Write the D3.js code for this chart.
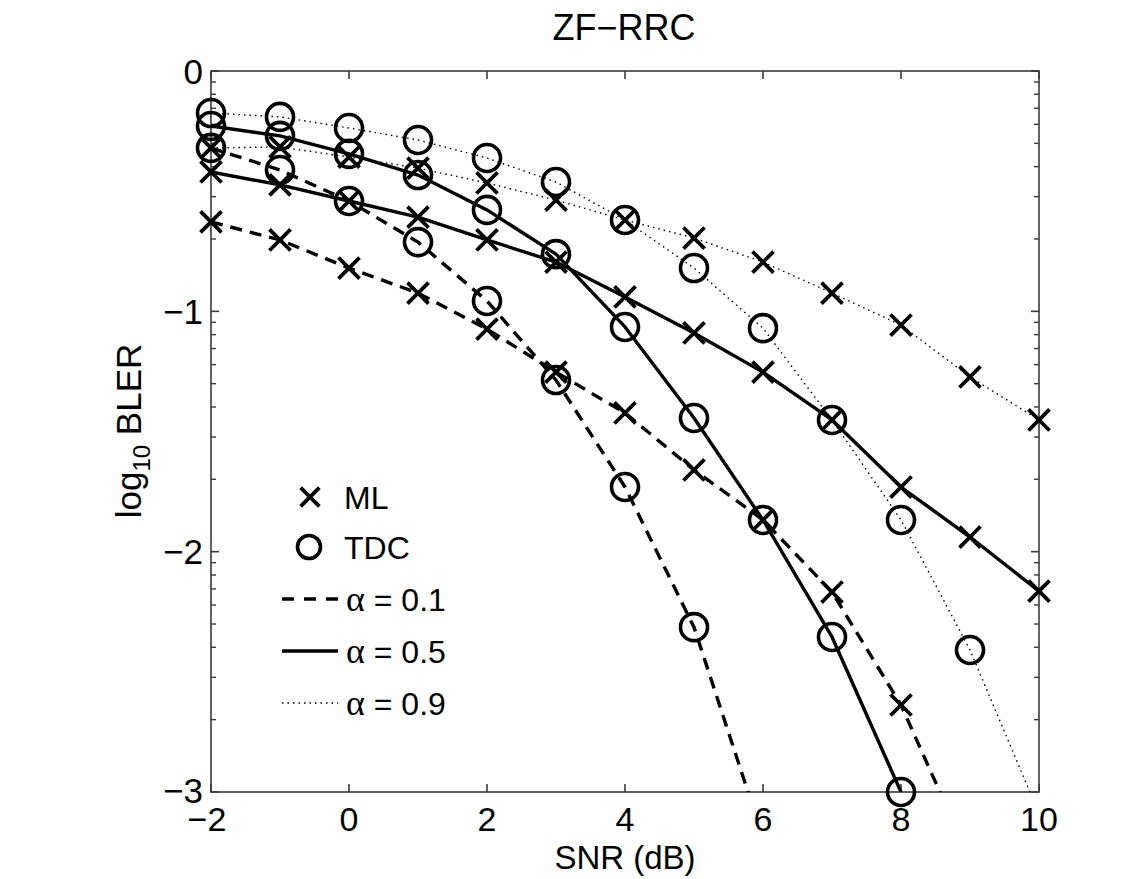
<!DOCTYPE html>
<html><head><meta charset="utf-8">
<script src="https://cdn.jsdelivr.net/npm/d3@7/dist/d3.min.js"></script>
<style>
html,body{margin:0;padding:0;background:#fff;}
svg{display:block;font-family:"Liberation Sans",Arial,sans-serif;}
</style></head>
<body>
<svg id="chart" width="1143" height="879"></svg>
<script>
// ---- data (log10 BLER vs SNR in dB) ----
const snr = [-2,-1,0,1,2,3,4,5,6,7,8,9,10];
const xTicks = [-2,0,2,4,6,8,10];
const yTicks = [0,-1,-2,-3];
const mlA01  = [-0.628,-0.703,-0.820,-0.924,-1.074,-1.253,-1.423,-1.660,-1.868,-2.168,-2.638,-3.28];
const tdcA01 = [-0.320,-0.412,-0.541,-0.712,-0.957,-1.286,-1.731,-2.314,-3.19];
const mlA05  = [-0.420,-0.474,-0.541,-0.608,-0.703,-0.795,-0.940,-1.090,-1.253,-1.452,-1.731,-1.939,-2.164];
const tdcA05 = [-0.229,-0.270,-0.345,-0.433,-0.578,-0.762,-1.065,-1.444,-1.868,-2.355,-3.0];
const mlA09  = [-0.320,-0.316,-0.358,-0.404,-0.466,-0.537,-0.620,-0.695,-0.795,-0.924,-1.057,-1.273,-1.452];
const tdcA09 = [-0.175,-0.191,-0.237,-0.287,-0.362,-0.462,-0.620,-0.820,-1.070,-1.452,-1.868,-2.409,-3.09];
const legendLabels = ["ML","TDC","α = 0.1","α = 0.5","α = 0.9"];

const series = [
  {v: mlA01,  marker:"x", style:"dash"},
  {v: tdcA01, marker:"o", style:"dash"},
  {v: mlA05,  marker:"x", style:"solid"},
  {v: tdcA05, marker:"o", style:"solid"},
  {v: mlA09,  marker:"x", style:"dot"},
  {v: tdcA09, marker:"o", style:"dot"}
];

const W = 1143, H = 879;
const m = {left:211, right:1039, top:71, bottom:792};
const x = d3.scaleLinear().domain([-2,10]).range([m.left, m.right]);
const y = d3.scaleLinear().domain([-3,0]).range([m.bottom, m.top]);

const svg = d3.select("#chart");
const styles = {
  dash: {w:3.4, da:"12,8"},
  solid:{w:3.4, da:null},
  dot:  {w:1.4, da:"1.5,4"}
};

svg.append("defs").append("clipPath").attr("id","clip")
  .append("rect").attr("x",m.left).attr("y",m.top)
  .attr("width",m.right-m.left).attr("height",m.bottom-m.top);

// axes frame
const axisColor = "#3a3a3a";
svg.append("rect").attr("x",m.left).attr("y",m.top)
  .attr("width",m.right-m.left).attr("height",m.bottom-m.top)
  .attr("fill","none").attr("stroke",axisColor).attr("stroke-width",1.6);

// x ticks (bottom & top, inward)
const gx = svg.append("g");
xTicks.forEach(t => {
  gx.append("line").attr("x1",x(t)).attr("x2",x(t)).attr("y1",m.bottom).attr("y2",m.bottom-8)
    .attr("stroke",axisColor).attr("stroke-width",1.6);
  gx.append("line").attr("x1",x(t)).attr("x2",x(t)).attr("y1",m.top).attr("y2",m.top+8)
    .attr("stroke",axisColor).attr("stroke-width",1.6);
  gx.append("text").attr("x",x(t)).attr("dx", t<0 ? -4 : 0).attr("y",831).attr("text-anchor","middle")
    .attr("font-size",34).attr("fill","#000").text(t<0?"\u2212"+Math.abs(t):t);
});

// y ticks major + log minor
const gy = svg.append("g");
const minor = [];
for (let d=-3; d<0; d++) for (let k=2;k<=9;k++) minor.push(d+Math.log10(k));
minor.forEach(v => {
  [[m.left, 5],[m.right,-5]].forEach(([x0,len]) => {
    gy.append("line").attr("x1",x0).attr("x2",x0+len).attr("y1",y(v)).attr("y2",y(v))
      .attr("stroke",axisColor).attr("stroke-width",1.4);
  });
});
yTicks.forEach(t => {
  [[m.left, 8],[m.right,-8]].forEach(([x0,len]) => {
    gy.append("line").attr("x1",x0).attr("x2",x0+len).attr("y1",y(t)).attr("y2",y(t))
      .attr("stroke",axisColor).attr("stroke-width",1.6);
  });
  gy.append("text").attr("x",203).attr("y",y(t)).attr("dy", t===-3 ? "0.30em" : "0.36em").attr("text-anchor","end")
    .attr("font-size",35).attr("fill","#000").text(t<0?"\u2212"+Math.abs(t):t);
});

// lines
const line = d3.line().x((d,i)=>x(snr[i])).y(d=>y(d));
const gl = svg.append("g").attr("clip-path","url(#clip)");
series.forEach(s => {
  const st = styles[s.style];
  gl.append("path").attr("d", line(s.v)).attr("fill","none").attr("stroke","#000")
    .attr("stroke-width",st.w).attr("stroke-dasharray",st.da).attr("stroke-linejoin","round");
});

// markers
function drawMarker(g, type, cx, cy, size) {
  if (type === "o") {
    g.append("circle").attr("cx",cx).attr("cy",cy).attr("r",size)
      .attr("fill","none").attr("stroke","#000").attr("stroke-width",3.6);
  } else {
    const h = size*0.78;
    g.append("path").attr("d",`M${cx-h},${cy-h}L${cx+h},${cy+h}M${cx-h},${cy+h}L${cx+h},${cy-h}`)
      .attr("stroke","#000").attr("stroke-width",3.8).attr("fill","none");
  }
}
const gm = svg.append("g");
series.forEach(s => {
  s.v.forEach((d,i) => { if (d >= -3) drawMarker(gm, s.marker, x(snr[i]), y(d), 13.5); });
});

// legend
const lg = svg.append("g").attr("font-size",32);
const rowY = [497,547,599,651,703];
drawMarker(lg,"x",310,rowY[0],12);
drawMarker(lg,"o",309,rowY[1],11.5);
["dash","solid","dot"].forEach((k,i) => {
  const st = styles[k];
  lg.append("line").attr("x1",282).attr("x2",338).attr("y1",rowY[i+2]).attr("y2",rowY[i+2])
    .attr("stroke","#000").attr("stroke-width",st.w).attr("stroke-dasharray",k==="dash"?"12,10":st.da);
});
legendLabels.forEach((lab,i) => {
  const t = lg.append("text").attr("x", i<2?344:346).attr("y",rowY[i]).attr("dy","0.36em").attr("fill","#000");
  if (lab.startsWith("α")) {
    t.append("tspan").attr("font-family","'Liberation Serif','DejaVu Serif',serif").attr("font-size",36).text("α");
    t.append("tspan").text(lab.slice(1));
  } else t.text(lab);
});

// title & axis labels
svg.append("text").attr("x",624).attr("y",40).attr("text-anchor","middle")
  .attr("font-size",36).attr("fill","#000").text("ZF\u2212RRC");
svg.append("text").attr("x",625).attr("y",869).attr("text-anchor","middle")
  .attr("font-size",33).attr("fill","#000").text("SNR (dB)");
const yl = svg.append("text").attr("transform","translate(141,431) rotate(-90)")
  .attr("text-anchor","middle").attr("font-size",35).attr("fill","#000");
yl.append("tspan").text("log");
yl.append("tspan").attr("font-size",24).attr("dy",9).text("10");
yl.append("tspan").attr("dy",-9).text(" BLER");
</script>
</body></html>
